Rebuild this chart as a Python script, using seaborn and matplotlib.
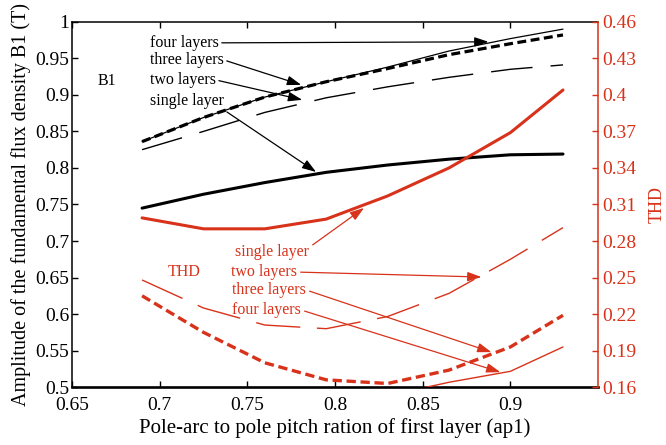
import numpy as np
import pandas as pd
import matplotlib
matplotlib.use("Agg")
import matplotlib.pyplot as plt
import seaborn as sns

# Pole-arc to pole pitch ratio of the first layer
ap1 = [0.69, 0.725, 0.76, 0.795, 0.83, 0.865, 0.90, 0.93]

# Fundamental flux density amplitude B1 (T)
b1_single = [0.745, 0.764, 0.780, 0.794, 0.804, 0.812, 0.818, 0.819]
b1_two = [0.825, 0.850, 0.876, 0.896, 0.911, 0.924, 0.935, 0.941]
b1_three = [0.836, 0.869, 0.897, 0.918, 0.936, 0.955, 0.970, 0.982]
b1_four = [0.836, 0.869, 0.897, 0.918, 0.938, 0.960, 0.977, 0.990]

# Total harmonic distortion
thd_single = [0.299, 0.290, 0.290, 0.298, 0.317, 0.340, 0.369, 0.404]
thd_two = [0.248, 0.225, 0.211, 0.208, 0.218, 0.237, 0.265, 0.291]
thd_three = [0.235, 0.205, 0.180, 0.166, 0.163, 0.174, 0.193, 0.219]
thd_four = [0.150, 0.145, 0.143, 0.145, 0.153, 0.164, 0.173, 0.193]

x_ticks = [0.65, 0.70, 0.75, 0.80, 0.85, 0.90]
x_tick_labels = ["0.65", "0.7", "0.75", "0.8", "0.85", "0.9"]
b1_ticks = [0.5, 0.55, 0.6, 0.65, 0.7, 0.75, 0.8, 0.85, 0.9, 0.95, 1.0]
b1_tick_labels = ["0.5", "0.55", "0.6", "0.65", "0.7", "0.75", "0.8",
                  "0.85", "0.9", "0.95", "1"]
thd_ticks = [0.16, 0.19, 0.22, 0.25, 0.28, 0.31, 0.34, 0.37, 0.40, 0.43, 0.46]
thd_tick_labels = ["0.16", "0.19", "0.22", "0.25", "0.28", "0.31", "0.34",
                   "0.37", "0.4", "0.43", "0.46"]

RED = "#d8321a"
BLACK = "#000000"

sns.set_theme(style="ticks")
plt.rcParams["font.family"] = ["Liberation Serif", "DejaVu Serif"]

fig = plt.figure(figsize=(6.66, 4.45), dpi=100)
ax = fig.add_subplot(111)
fig.subplots_adjust(left=0.108, right=0.898, bottom=0.130, top=0.951)
ax2 = ax.twinx()

b1 = pd.DataFrame({"ap1": ap1, "single": b1_single, "two": b1_two,
                   "three": b1_three, "four": b1_four})
thd = pd.DataFrame({"ap1": ap1, "single": thd_single, "two": thd_two,
                    "three": thd_three, "four": thd_four})

long_dash = (0, (30, 13))
short_dash = (0, (2.8, 1.4))
red_long_dash = (0, (32, 12))

# B1 curves on the left axis
sns.lineplot(data=b1, x="ap1", y="four", ax=ax, color=BLACK, lw=0.9)
sns.lineplot(data=b1, x="ap1", y="two", ax=ax, color=BLACK, lw=1.0,
             linestyle=long_dash)
sns.lineplot(data=b1, x="ap1", y="three", ax=ax, color=BLACK, lw=2.3,
             linestyle=short_dash)
sns.lineplot(data=b1, x="ap1", y="single", ax=ax, color=BLACK, lw=2.2)

# THD curves on the right axis
sns.lineplot(data=thd, x="ap1", y="single", ax=ax2, color=RED, lw=2.2)
sns.lineplot(data=thd, x="ap1", y="two", ax=ax2, color=RED, lw=1.0,
             linestyle=red_long_dash)
sns.lineplot(data=thd, x="ap1", y="three", ax=ax2, color=RED, lw=2.4,
             linestyle=short_dash)
sns.lineplot(data=thd, x="ap1", y="four", ax=ax2, color=RED, lw=1.0)

ax.set_xlim(0.65, 0.95)
ax.set_ylim(0.5, 1.0)
ax2.set_ylim(0.16, 0.46)

ax.set_xticks(x_ticks)
ax.set_xticklabels(x_tick_labels)
ax.set_yticks(b1_ticks)
ax.set_yticklabels(b1_tick_labels)
ax2.set_yticks(thd_ticks)
ax2.set_yticklabels(thd_tick_labels)

tick_fs = 14
ax.tick_params(axis="both", direction="in", length=4, width=1.0,
               labelsize=tick_fs, colors=BLACK, top=True, right=False)
ax.tick_params(axis="x", pad=7)
ax.tick_params(axis="y", pad=2)
ax2.tick_params(axis="y", direction="in", length=4, width=1.0,
                labelsize=tick_fs, colors=RED, pad=3)

ax.set_xlabel("Pole-arc to pole pitch ration of first layer (ap1)",
              fontsize=15, color=BLACK, labelpad=3)
ax.set_ylabel("Amplitude of the fundamental flux density B1 (T)",
              fontsize=14.5, color=BLACK, labelpad=3)
ax2.set_ylabel("THD", fontsize=13, color=RED, rotation=90,
               ha="center", va="center")
ax2.yaxis.set_label_coords(1.112, 0.499)

for name in ["left", "top"]:
    ax.spines[name].set_linewidth(1.1)
    ax.spines[name].set_color(BLACK)
ax.spines["bottom"].set_linewidth(1.9)
ax.spines["bottom"].set_color(BLACK)
ax.spines["right"].set_visible(False)
for name in ["left", "top", "bottom"]:
    ax2.spines[name].set_visible(False)
ax2.spines["right"].set_color(RED)
ax2.spines["right"].set_linewidth(1.1)
ax.grid(False)
ax2.grid(False)

ARROW = "-|>,head_length=0.65,head_width=0.22"


def arrow(axis, label, xy, xytext, color, relpos=(1.0, 0.5)):
    axis.annotate(
        label, xy=xy, xytext=xytext, textcoords="data",
        fontsize=11.5, color=color, ha="left", va="center",
        arrowprops=dict(arrowstyle=ARROW, mutation_scale=13, color=color,
                        lw=0.9, shrinkA=0, shrinkB=0, relpos=relpos),
    )


# Labels for the B1 curves
arrow(ax, "four layers", (0.8875, 0.9726), (0.6943, 0.9712), BLACK)
arrow(ax, "three layers", (0.7807, 0.9137), (0.6943, 0.9479), BLACK)
arrow(ax, "two layers", (0.7813, 0.8932), (0.6943, 0.9205), BLACK)
arrow(ax, "single layer", (0.7892, 0.7945), (0.6943, 0.8918), BLACK,
      relpos=(0.95, 0.1))
ax.text(0.6699, 0.9192, "B1", fontsize=11.5, color=BLACK,
        ha="center", va="center")

# Labels for the THD curves
arrow(ax, "single layer", (0.8165, 0.7452), (0.7432, 0.6849), RED,
      relpos=(1.0, 0.8))
arrow(ax, "two layers", (0.8835, 0.6507), (0.7409, 0.6575), RED)
arrow(ax, "three layers", (0.8892, 0.5479), (0.7415, 0.6329), RED)
arrow(ax, "four layers", (0.8943, 0.5205), (0.7415, 0.6055), RED)
ax.text(0.7142, 0.6575, "THD", fontsize=11.5, color=RED,
        ha="center", va="center")

fig.savefig("out.png", dpi=100)
